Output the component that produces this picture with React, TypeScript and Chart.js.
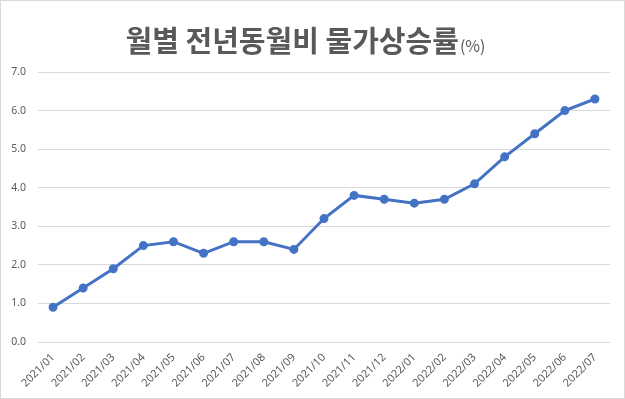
import React, { useEffect, useRef } from "react";
import { Chart, registerables } from "chart.js";

Chart.register(...registerables);

const TITLE_MAIN = "월별 전년동월비 물가상승률";
const TITLE_UNIT = "(%)";

const months: string[] = [
  "2021/01", "2021/02", "2021/03", "2021/04", "2021/05", "2021/06", "2021/07",
  "2021/08", "2021/09", "2021/10", "2021/11", "2021/12", "2022/01", "2022/02",
  "2022/03", "2022/04", "2022/05", "2022/06", "2022/07",
];

const inflation: number[] = [
  0.9, 1.4, 1.9, 2.5, 2.6, 2.3, 2.6, 2.6, 2.4, 3.2, 3.8, 3.7, 3.6, 3.7, 4.1, 4.8, 5.4, 6.0, 6.3,
];

const Y_MIN = 0;
const Y_MAX = 7;
const Y_STEP = 1;

const decor = {
  id: "decor",
  afterDraw(chart: any) {
    const ctx = chart.ctx as CanvasRenderingContext2D;
    const W = chart.width;
    const H = chart.height;
    ctx.save();
    ctx.strokeStyle = "#d9d9d9";
    ctx.lineWidth = 1;
    ctx.strokeRect(0.5, 0.5, W - 1, H - 1);
    const mainFont = "bold 29px 'Noto Sans CJK KR'";
    const unitFont = "16px 'Noto Sans CJK KR'";
    ctx.font = mainFont;
    const w1 = ctx.measureText(TITLE_MAIN).width;
    ctx.font = unitFont;
    const w2 = ctx.measureText(TITLE_UNIT).width;
    const x0 = 305 - (w1 + w2) / 2;
    const baseY = 52;
    ctx.fillStyle = "#595959";
    ctx.textBaseline = "alphabetic";
    ctx.textAlign = "left";
    ctx.font = mainFont;
    ctx.fillText(TITLE_MAIN, x0, baseY);
    ctx.font = unitFont;
    ctx.fillText(TITLE_UNIT, x0 + w1 + 1, baseY);
    ctx.restore();
  },
};

export default function App() {
  const ref = useRef<HTMLCanvasElement | null>(null);
  useEffect(() => {
    document.body.style.margin = "0";
    const chart = new Chart(ref.current!, {
      type: "line",
      data: {
        labels: months,
        datasets: [
          {
            data: inflation,
            borderColor: "#4472C4",
            backgroundColor: "#4472C4",
            borderWidth: 3,
            pointRadius: 3,
            pointBackgroundColor: "#4472C4",
            pointBorderColor: "#4472C4",
            tension: 0,
          },
        ],
      },
      options: {
        animation: false,
        responsive: false,
        maintainAspectRatio: false,
        layout: { padding: { left: 0, right: 15, top: 72, bottom: 0 } },
        plugins: {
          legend: { display: false },
          title: { display: false },
          tooltip: { enabled: false },
        },
        scales: {
          x: {
            offset: true,
            grid: { display: false, drawTicks: false },
            border: { display: false },
            ticks: {
              minRotation: 45,
              maxRotation: 45,
              autoSkip: false,
              padding: 9,
              color: "#595959",
              font: { family: "'Noto Sans', sans-serif", size: 11 },
            },
            afterFit(scale: any) {
              scale.height = 57;
            },
          },
          y: {
            min: Y_MIN,
            max: Y_MAX,
            grid: { color: "#d9d9d9", lineWidth: 1, drawTicks: false },
            border: { display: false },
            ticks: {
              stepSize: Y_STEP,
              padding: 12,
              color: "#595959",
              font: { family: "'Noto Sans', sans-serif", size: 10.5 },
              callback: (v: any) => Number(v).toFixed(1),
            },
            afterFit(scale: any) {
              scale.width = 38;
            },
          },
        },
      },
      plugins: [decor],
    });
    return () => chart.destroy();
  }, []);
  return (
    <div style={{ width: 625, height: 399 }}>
      <canvas ref={ref} width={625} height={399} style={{ display: "block" }} />
    </div>
  );
}
